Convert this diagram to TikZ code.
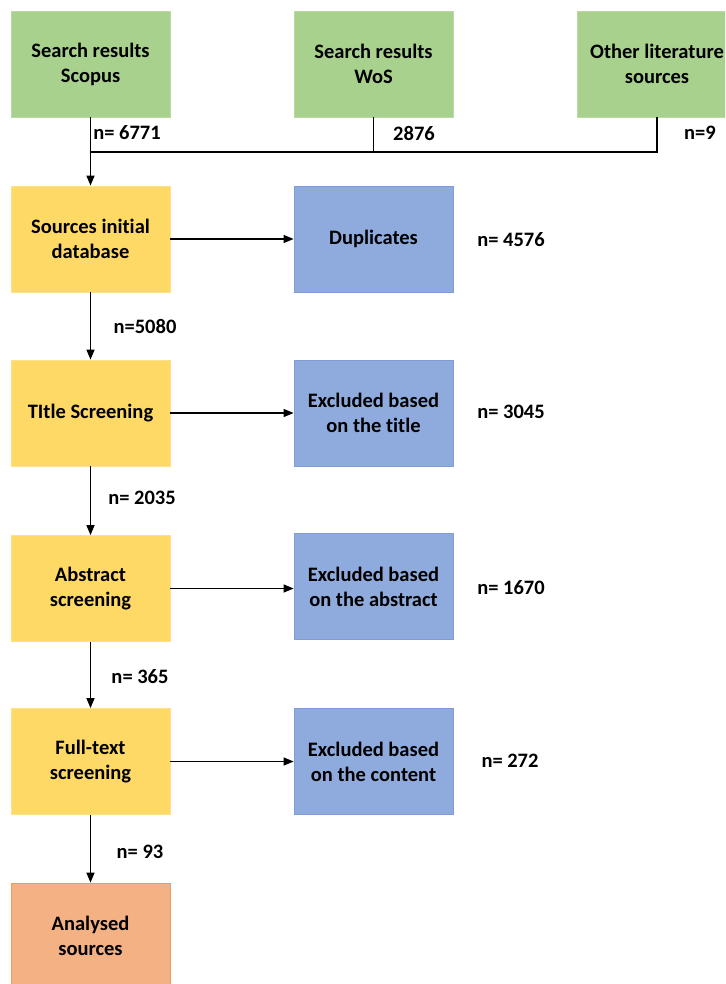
\documentclass[tikz,border=0pt]{standalone}
\usepackage{fontspec}
\setmainfont{Carlito}[Ligatures={NoCommon,TeX}]
\usetikzlibrary{arrows.meta}

\definecolor{srcgreen}{HTML}{A9D18E}
\definecolor{srcgreenline}{HTML}{B9DBA2}
\definecolor{stageyellow}{HTML}{FFD966}
\definecolor{stageyellowline}{HTML}{FFE08A}
\definecolor{exclblue}{HTML}{8FAADC}
\definecolor{exclblueline}{HTML}{7E9CD6}
\definecolor{finalorange}{HTML}{F4B183}
\definecolor{finalorangeline}{HTML}{F09A5C}

\tikzset{
  box/.style={minimum width=159pt, minimum height=106pt, inner sep=2pt,
    align=center, line width=0.8pt,
    font=\bfseries\fontsize{20.5}{25}\selectfont},
  source/.style={box, fill=srcgreen, draw=srcgreenline},
  stage/.style={box, fill=stageyellow, draw=stageyellowline},
  excluded/.style={box, fill=exclblue, draw=exclblueline},
  final/.style={box, fill=finalorange, draw=finalorangeline},
  count/.style={font=\bfseries\fontsize{20.5}{24}\selectfont, inner sep=0pt},
  flow/.style={line width=1.3pt, -{Triangle[length=10pt,width=8pt]}},
  feed/.style={line width=1.3pt}
}

\begin{document}
\begin{tikzpicture}[x=1pt,y=-1pt]
\useasboundingbox (0,0) rectangle (725,984);
\clip (0,0) rectangle (725,984);

% search sources
\node[source] (scopus) at (90.5,64) {Search results\\Scopus};
\node[source] (wos)    at (373.5,64) {Search results\\WoS};
\node[source] (other)  at (657,64) {Other literature\\sources};

% screening stages
\node[stage] (initial)  at (90.5,239)   {Sources initial\\database};
\node[stage] (title)    at (90.5,413)   {TItle Screening};
\node[stage] (abstract) at (90.5,588.5) {Abstract\\screening};
\node[stage] (fulltext) at (90.5,761.5) {Full-text\\screening};
\node[final] (analysed) at (90.5,936)   {Analysed\\sources};

% exclusions
\node[excluded] (dup)     at (373.5,239)   {Duplicates};
\node[excluded] (extitle) at (373.5,413)   {Excluded based\\on the title};
\node[excluded] (exabs)   at (373.5,586.5) {Excluded based\\on the abstract};
\node[excluded] (excont)  at (373.5,761.5) {Excluded based\\on the content};

% merging the three sources
\coordinate (join) at (90.5,152);
\draw[feed] (wos.south) -- (wos.south |- join);
\draw[feed] (other.south) -- (other.south |- join) -- (join);
\draw[flow] (scopus.south) -- (initial.north);

% main flow
\draw[flow] (initial) -- (title);
\draw[flow] (title) -- (abstract);
\draw[flow] (abstract) -- (fulltext);
\draw[flow] (fulltext) -- (analysed);

% removals
\draw[flow] (initial.east) -- (dup.west |- initial.east);
\draw[flow] (title.east) -- (extitle.west |- title.east);
\draw[flow] (abstract.east) -- (exabs.west |- abstract.east);
\draw[flow] (fulltext.east) -- (excont.west |- fulltext.east);

% counts
\node[count] (c1) at (127,133) {n= 6771};
\node[count] (c2) at (414,133) {2876};
\node[count] (c3) at (700,133) {n=9};
\node[count] (c4) at (511,240) {n= 4576};
\node[count] (c5) at (511,412) {n= 3045};
\node[count] (c6) at (511,588) {n= 1670};
\node[count] (c7) at (510,761) {n= 272};
\node[count] (c8) at (145,326) {n=5080};
\node[count] (c9) at (142,498) {n= 2035};
\node[count] (c10) at (140,677) {n= 365};
\node[count] (c11) at (140,852) {n= 93};
\end{tikzpicture}
\end{document}
